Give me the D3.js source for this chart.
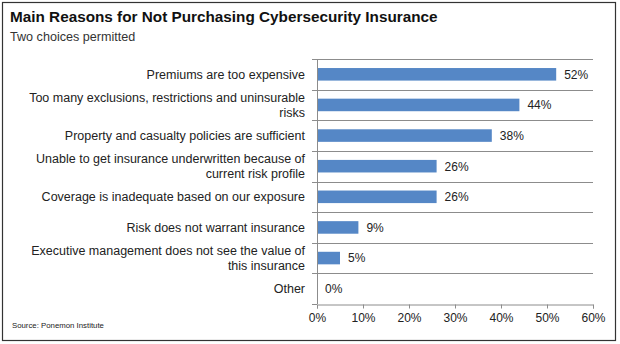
<!DOCTYPE html>
<html>
<head>
<meta charset="utf-8">
<script src="https://cdn.jsdelivr.net/npm/d3@7"></script>
<style>
  html, body { margin: 0; padding: 0; background: #fff; }
  svg { display: block; font-family: Arial, "Liberation Sans", sans-serif; }
</style>
</head>
<body>
<svg id="chart" width="620" height="344"></svg>
<script>
// Survey responses: share of respondents citing each reason
const reasons = [
  ["Premiums are too expensive"],
  ["Too many exclusions, restrictions and uninsurable", "risks"],
  ["Property and casualty policies are sufficient"],
  ["Unable to get insurance underwritten because of", "current risk profile"],
  ["Coverage is inadequate based on our exposure"],
  ["Risk does not warrant insurance"],
  ["Executive management does not see the value of", "this insurance"],
  ["Other"]
];
const shares = [52, 44, 38, 26, 26, 9, 5, 0];
const xTicks = [0, 10, 20, 30, 40, 50, 60];

const svg = d3.select("#chart");
const plot = { left: 317, right: 593, top: 59, bottom: 304 };
const gridColor = "#8c8c8c";

// Outer frame
svg.append("rect")
  .attr("x", 2.5).attr("y", 2.5)
  .attr("width", 613).attr("height", 338)
  .attr("fill", "#fff").attr("stroke", "#333").attr("stroke-width", 1.2);

// Heading
svg.append("text")
  .attr("x", 10).attr("y", 22)
  .attr("font-size", 15.3).attr("font-weight", "bold").attr("fill", "#111")
  .text("Main Reasons for Not Purchasing Cybersecurity Insurance");
svg.append("text")
  .attr("x", 10).attr("y", 41)
  .attr("font-size", 12.6).attr("fill", "#333")
  .text("Two choices permitted");

const idx = d3.range(reasons.length);
const x = d3.scaleLinear().domain([0, 60]).range([plot.left, plot.right]);
const y = d3.scaleBand().domain(idx).range([plot.top, plot.bottom])
  .paddingInner(0.59).paddingOuter(0.295);
const step = y.step();

// Horizontal separators between categories
const boundaries = d3.range(reasons.length + 1).map(i => plot.top + i * step);
svg.append("g").selectAll("line")
  .data(boundaries.slice(0, -1))
  .join("line")
  .attr("x1", plot.left - 5).attr("x2", plot.right)
  .attr("y1", d => Math.round(d) + 0.5).attr("y2", d => Math.round(d) + 0.5)
  .attr("stroke", gridColor).attr("stroke-width", 1);
// tick mark at the bottom boundary on the category axis
svg.append("line")
  .attr("x1", plot.left - 5).attr("x2", plot.left)
  .attr("y1", plot.bottom + 0.5).attr("y2", plot.bottom + 0.5)
  .attr("stroke", gridColor);

// Bottom value axis
const xAxis = d3.axisBottom(x)
  .tickValues(xTicks)
  .tickFormat(d => d + "%")
  .tickSize(4)
  .tickPadding(5);
const gx = svg.append("g")
  .attr("transform", `translate(0,${plot.bottom + 0.5})`)
  .call(xAxis);
gx.select(".domain").attr("stroke", gridColor);
gx.selectAll(".tick line").attr("stroke", gridColor);
gx.selectAll(".tick text")
  .attr("font-size", 12).attr("fill", "#222")
  .attr("font-family", "Arial, 'Liberation Sans', sans-serif");

// Bars
svg.append("g").selectAll("rect")
  .data(idx)
  .join("rect")
  .attr("x", x(0))
  .attr("y", i => y(i))
  .attr("width", i => x(shares[i]) - x(0))
  .attr("height", y.bandwidth())
  .attr("fill", "#5587C6");

// Category axis line
svg.append("line")
  .attr("x1", plot.left + 0.5).attr("x2", plot.left + 0.5)
  .attr("y1", plot.top).attr("y2", plot.bottom)
  .attr("stroke", gridColor);

// Value labels
svg.append("g").selectAll("text")
  .data(idx)
  .join("text")
  .attr("x", i => x(shares[i]) + 8)
  .attr("y", i => y(i) + y.bandwidth() / 2)
  .attr("dy", "0.36em")
  .attr("font-size", 12).attr("fill", "#222")
  .text(i => shares[i] + "%");

// Category labels (wrapped, right aligned)
const lineH = 15;
const labels = svg.append("g").selectAll("text")
  .data(idx)
  .join("text")
  .attr("text-anchor", "end")
  .attr("font-size", 12.5).attr("fill", "#222")
  .attr("y", i => y(i) + y.bandwidth() / 2 - (reasons[i].length - 1) * lineH / 2);
labels.selectAll("tspan")
  .data(i => reasons[i].map((t, k) => ({ t, k })))
  .join("tspan")
  .attr("x", 305)
  .attr("dy", d => d.k === 0 ? "0.36em" : lineH)
  .text(d => d.t);

// Source note
svg.append("text")
  .attr("x", 12).attr("y", 328)
  .attr("font-size", 7.8).attr("fill", "#222")
  .text("Source: Ponemon Institute");
</script>
</body>
</html>
